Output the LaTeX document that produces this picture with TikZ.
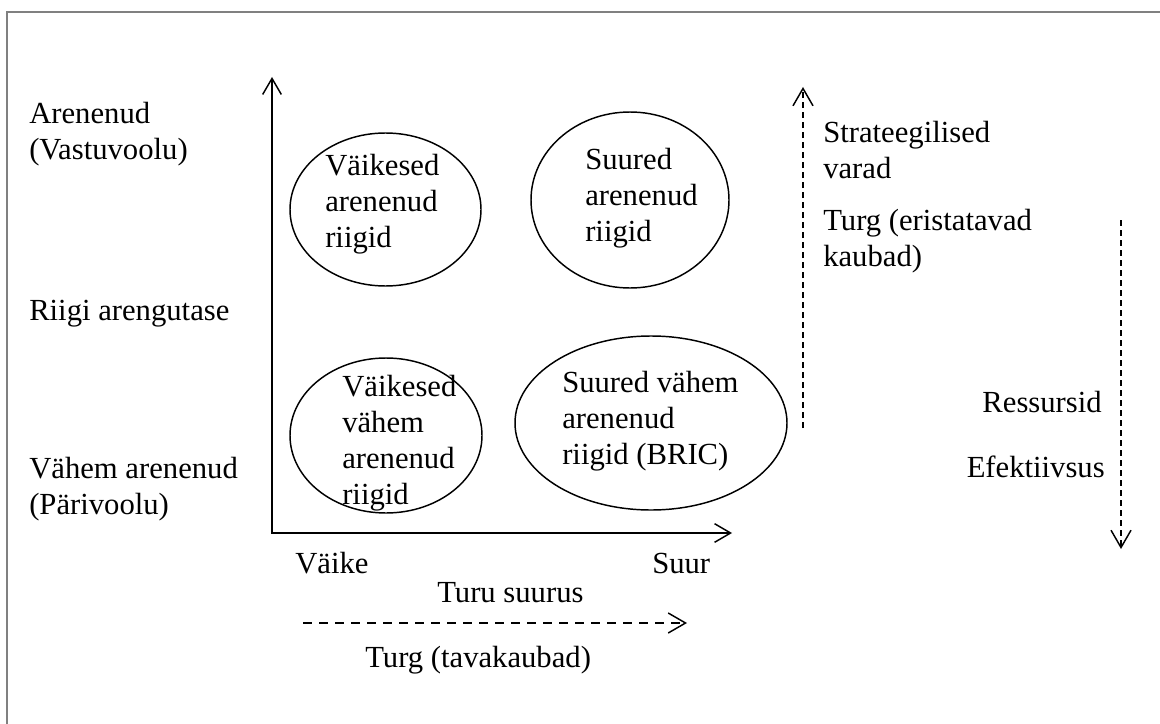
\documentclass[tikz,border=0pt]{standalone}
\usepackage{fontspec}
\setmainfont{Liberation Serif}
\usetikzlibrary{arrows.meta}
\tikzset{
  lbl/.style={anchor=base west,inner sep=0pt,align=left,font=\fontsize{23}{27}\selectfont},
  rlbl/.style={lbl,anchor=base east,align=right},
  oval/.style={line width=1.1pt},
  barb/.tip={Straight Barb[length=12pt,width=14pt,line width=1.1pt]},
  dbarb/.tip={Straight Barb[length=13pt,width=15pt,line width=1.1pt]},
  axis/.style={line width=1.4pt,barb-barb},
  flow/.style={line width=1.1pt,dash pattern=on 4.5pt off 3pt,-dbarb},
  flowh/.style={line width=1.1pt,dash pattern=on 6.5pt off 5.5pt,-dbarb}
}
\begin{document}
\begin{tikzpicture}[x=0.75pt,y=-0.75pt]
\useasboundingbox (0,0) rectangle (1160,724);
\draw[gray,line width=1.5pt] (7,724) -- (7,12) -- (1160,12); % raam
% teljed
\coordinate (ytip) at (272,77);
\coordinate (origin) at (272,533);
\coordinate (xtip) at (732,533);
\draw[axis] (ytip) -- (origin) -- (xtip);
% ellipsid (base = viimase rea alusjoon)
\draw[oval] (385.5,209.5) ellipse (95.5 and 76.5);
\draw[oval] (630,200) ellipse (99 and 88);
\draw[oval] (386,435.5) ellipse (96 and 77.5);
\draw[oval] (651,423) ellipse (136 and 87);
\node[lbl] (vaa) at (325,247) {Väikesed\\arenenud\\riigid};
\node[lbl] (sua) at (585,241) {Suured\\arenenud\\riigid};
\node[lbl] (vva) at (342,504) {Väikesed\\vähem\\arenenud\\riigid};
\node[lbl] (sva) at (562,464) {Suured vähem\\arenenud\\riigid (BRIC)};
% vasak pool
\node[lbl] (aren) at (29,159) {Arenenud\\(Vastuvoolu)};
\node[lbl] (rarg) at (29,320) {Riigi arengutase};
\node[lbl] (vaar) at (29,514) {Vähem arenenud\\(Pärivoolu)};
% all
\node[lbl] (vaike) at (295,573) {Väike};
\node[lbl] (suur) at (652,573) {Suur};
\node[lbl] (turus) at (437,602) {Turu suurus};
\coordinate (tk1) at (303,623);
\coordinate (tk2) at (687,623);
\draw[flowh] (tk1) -- (tk2);
\node[lbl] (tava) at (365,667) {Turg (tavakaubad)};
% parem pool
\coordinate (sv1) at (803,428);
\coordinate (sv2) at (803,87);
\draw[flow] (sv1) -- (sv2);
\node[lbl] (strat) at (823,178) {Strateegilised\\varad};
\node[lbl] (erist) at (823,266) {Turg (eristatavad\\kaubad)};
\coordinate (rf1) at (1121,220);
\coordinate (rf2) at (1121,549);
\draw[flow] (rf1) -- (rf2);
\node[rlbl] (ress) at (1102,412) {Ressursid};
\node[rlbl] (efek) at (1105,477) {Efektiivsus};
\end{tikzpicture}
\end{document}
